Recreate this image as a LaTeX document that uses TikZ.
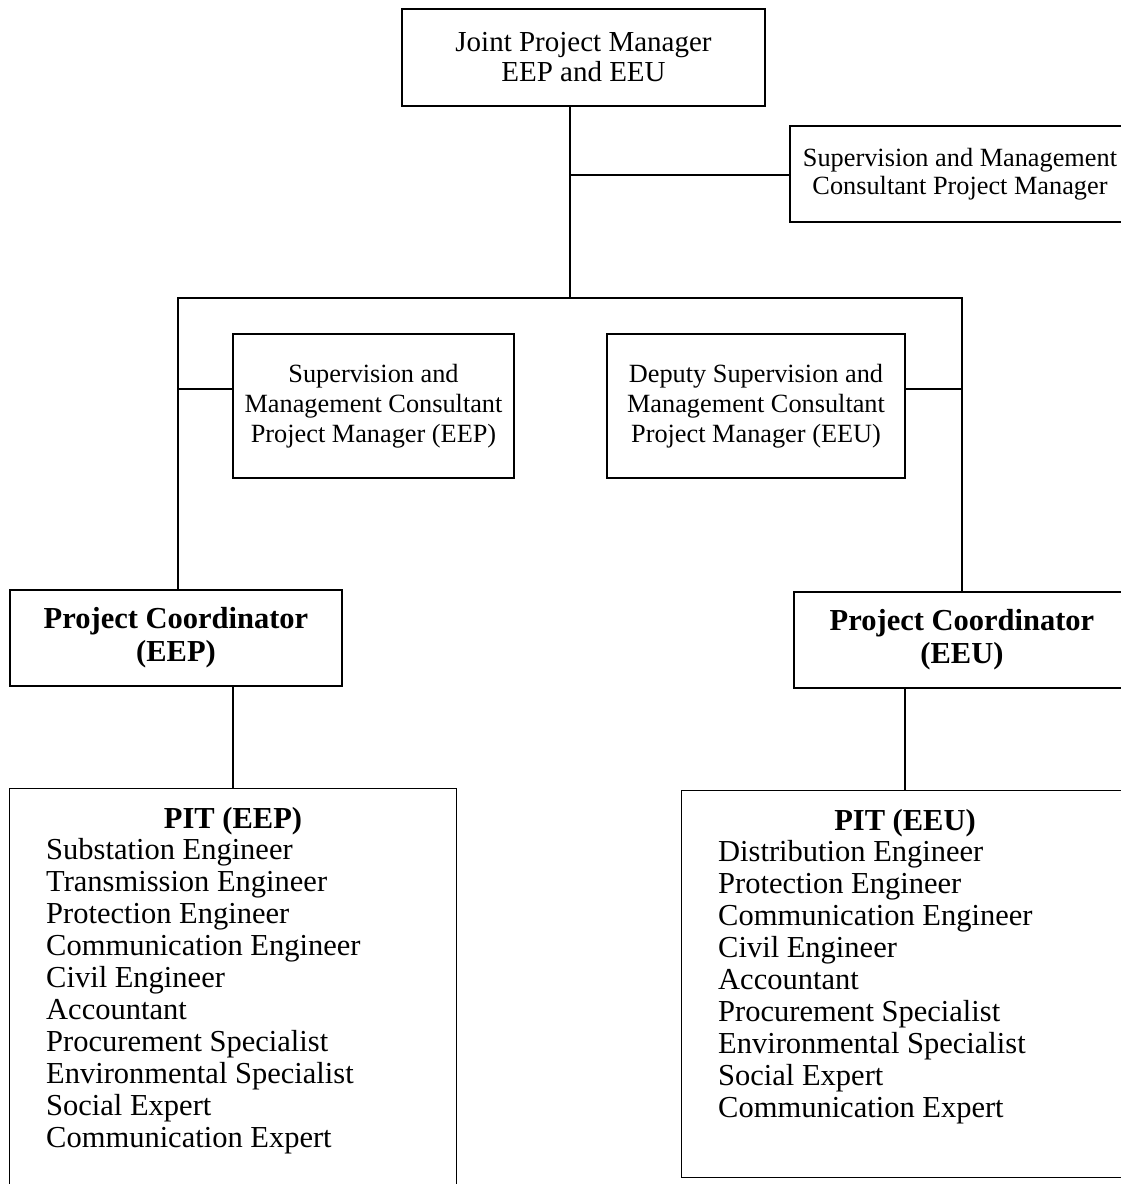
\documentclass[tikz,border=0pt]{standalone}
\usepackage{fontspec}
\setmainfont{Liberation Serif}
\usetikzlibrary{positioning}

\begin{document}
\begin{tikzpicture}[x=1pt,y=-1pt,
    box/.style={draw,line width=1.3pt,inner sep=0pt,align=center},
    txt/.style={font=\fontsize{26.3}{30}\selectfont},
    big/.style={font=\fontsize{30.5}{33}\selectfont\bfseries},
    staff/.style={inner sep=0pt,align=left,anchor=north west,font=\fontsize{30.5}{32}\selectfont},
    link/.style={line width=1.8pt}]

    \useasboundingbox (0,0) rectangle (1121,1184);
    \clip (0,0) rectangle (1121,1184);

    % top of the chart
    \node[box,minimum width=363pt,minimum height=97pt,font=\fontsize{29}{30}\selectfont] (jpm) at (583.5,57.5) {Joint Project Manager\\EEP and EEU};
    \node[box,minimum width=340pt,minimum height=96pt,font=\fontsize{26.3}{28}\selectfont] (smc) at (960,174) {Supervision and Management\\Consultant Project Manager};

    % consultants
    \node[box,txt,minimum width=281pt,minimum height=144pt] (smceep) at (373.5,406) {Supervision and\\Management Consultant\\Project Manager (EEP)};
    \node[box,txt,minimum width=298pt,minimum height=144pt] (dsmceeu) at (756,406) {Deputy Supervision and\\Management Consultant\\Project Manager (EEU)};

    % coordinators
    \node[box,big,minimum width=332pt,minimum height=96pt] (pceep) at (176,638) {Project Coordinator\\(EEP)};
    \node[box,big,minimum width=336pt,minimum height=96pt] (pceeu) at (962,640) {Project Coordinator\\(EEU)};

    % implementation teams
    \node[box,minimum width=447pt,minimum height=420pt,anchor=north] (piteep) at (233,788) {};
    \node[box,minimum width=447pt,minimum height=387pt,anchor=north] (piteeu) at (905,790) {};

    \node[big,anchor=base] (piteephead) at (233,828) {PIT (EEP)};
    \node[big,anchor=base] (piteeuhead) at (905,830) {PIT (EEU)};

    \node[staff] (piteeplist) at (46,838) {Substation Engineer\\Transmission Engineer\\Protection Engineer\\Communication Engineer\\Civil Engineer\\Accountant\\Procurement Specialist\\Environmental Specialist\\Social Expert\\Communication Expert};
    \node[staff] (piteeulist) at (718,840) {Distribution Engineer\\Protection Engineer\\Communication Engineer\\Civil Engineer\\Accountant\\Procurement Specialist\\Environmental Specialist\\Social Expert\\Communication Expert};

    % connectors
    \coordinate (hub) at (570,298);
    \coordinate (tee) at (570,175);
    \coordinate (busl) at (178,298);
    \coordinate (busr) at (962,298);
    \coordinate (jl) at (178,389);
    \coordinate (jr) at (962,389);

    \draw[link] (jpm.south -| hub) -- (hub);
    \draw[link] (tee) -- (tee -| smc.west);
    \draw[link] (busl |- pceep.north) -- (busl) -- (busr) -- (busr |- pceeu.north);
    \draw[link] (jl) -- (jl -| smceep.west);
    \draw[link] (jr) -- (jr -| dsmceeu.east);
    \draw[link] (pceep.south -| piteep.north) -- (piteep.north);
    \draw[link] (pceeu.south -| piteeu.north) -- (piteeu.north);

\end{tikzpicture}
\end{document}
